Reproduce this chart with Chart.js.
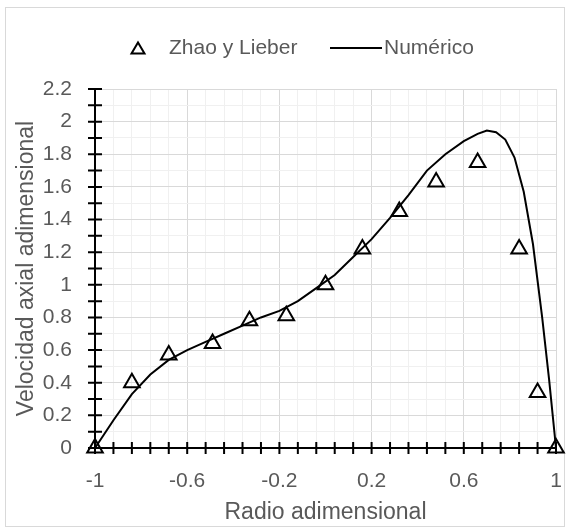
<!DOCTYPE html>
<html>
<head>
<meta charset="utf-8">
<script src="https://cdn.jsdelivr.net/npm/chart.js@4.4.1/dist/chart.umd.min.js"></script>
<style>
  html, body { margin: 0; padding: 0; background: #fff; }
  canvas { display: block; }
</style>
</head>
<body>
<canvas id="perfil" width="570" height="531"></canvas>
<script>
// Zhao y Lieber (experimental)
const expX = [-1, -0.84, -0.68, -0.49, -0.33, -0.17, 0, 0.16, 0.32, 0.48, 0.66, 0.84, 0.92, 1];
const expY = [0, 0.40, 0.57, 0.64, 0.78, 0.81, 1.0, 1.22, 1.45, 1.63, 1.75, 1.22, 0.34, 0];

// Numérico
const numX = [-1, -0.92, -0.84, -0.76, -0.68, -0.6, -0.52, -0.44, -0.36, -0.28, -0.2, -0.12, -0.04,
    0.04, 0.12, 0.2, 0.28, 0.36, 0.44, 0.52, 0.6, 0.66, 0.7, 0.74, 0.78, 0.82, 0.86, 0.9, 0.94, 0.97, 1];
const numY = [0, 0.17, 0.33, 0.45, 0.54, 0.60, 0.65, 0.70, 0.75, 0.80, 0.84, 0.90, 0.98,
    1.06, 1.17, 1.28, 1.41, 1.55, 1.70, 1.80, 1.88, 1.925, 1.945, 1.935, 1.89, 1.78, 1.57, 1.25, 0.80, 0.42, 0];

const seriesNames = ["Zhao y Lieber", "Numérico"];
const xTitle = "Radio adimensional";
const yTitle = "Velocidad axial adimensional";

const FONT = '"Liberation Sans", Arial, sans-serif';
const GREY = "#595959";

const toPoints = (xs, ys) => xs.map((v, i) => ({ x: v, y: ys[i] }));

// marco exterior
const frame = {
    id: "frame",
    beforeDraw(chart) {
        const ctx = chart.ctx;
        ctx.save();
        ctx.fillStyle = "#fff";
        ctx.fillRect(0, 0, chart.width, chart.height);
        ctx.strokeStyle = "#d9d9d9";
        ctx.lineWidth = 1;
        ctx.strokeRect(5.5, 7.5, 559, 519);
        ctx.restore();
    }
};

// marcas cruzadas en los ejes
const crossTicks = {
    id: "crossTicks",
    beforeDatasetsDraw(chart) {
        const { ctx, scales: { x, y } } = chart;
        const x0 = x.getPixelForValue(-1);
        const y0 = y.getPixelForValue(0);
        ctx.save();
        ctx.strokeStyle = "#000";
        ctx.lineWidth = 2;
        ctx.beginPath();
        x.ticks.forEach(t => {
            const px = x.getPixelForValue(t.value);
            ctx.moveTo(px, y0 - 6);
            ctx.lineTo(px, y0 + 6);
        });
        y.ticks.forEach(t => {
            const py = y.getPixelForValue(t.value);
            ctx.moveTo(x0 - 7, py);
            ctx.lineTo(x0 + 7, py);
        });
        ctx.stroke();
        ctx.restore();
    }
};

// leyenda
const legendBox = {
    id: "legendBox",
    afterDraw(chart) {
        const ctx = chart.ctx;
        const cy = 48;
        ctx.save();
        ctx.strokeStyle = "#000";
        ctx.lineWidth = 2;
        ctx.beginPath();
        ctx.moveTo(131.5, cy + 5.5);
        ctx.lineTo(138, cy - 5.5);
        ctx.lineTo(144.5, cy + 5.5);
        ctx.closePath();
        ctx.stroke();
        ctx.beginPath();
        ctx.moveTo(330, cy);
        ctx.lineTo(382, cy);
        ctx.stroke();
        ctx.fillStyle = GREY;
        ctx.font = "21px " + FONT;
        ctx.textBaseline = "middle";
        ctx.textAlign = "left";
        ctx.fillText(seriesNames[0], 169, cy);
        ctx.fillText(seriesNames[1], 384, cy);
        ctx.restore();
    }
};

const chart = new Chart(document.getElementById("perfil"), {
    type: "scatter",
    data: {
        datasets: [
            {
                label: seriesNames[0],
                data: toPoints(expX, expY),
                showLine: false,
                pointStyle: "triangle",
                pointRadius: 9,
                pointBorderWidth: 2,
                pointBorderColor: "#000",
                pointBackgroundColor: "rgba(0,0,0,0)",
                clip: false,
                order: 0
            },
            {
                label: seriesNames[1],
                data: toPoints(numX, numY),
                showLine: true,
                borderColor: "#000",
                borderWidth: 2,
                pointRadius: 0,
                tension: 0,
                clip: false,
                order: 1
            }
        ]
    },
    options: {
        responsive: false,
        animation: false,
        layout: { padding: { top: 89, right: 14, left: 0, bottom: 0 } },
        plugins: {
            legend: { display: false },
            tooltip: { enabled: false }
        },
        scales: {
            x: {
                type: "linear",
                min: -1,
                max: 1,
                afterFit: s => {
                    s.height = 83;
                    s.paddingLeft = 0;
                    s.paddingRight = 0;
                },
                ticks: {
                    stepSize: 0.08,
                    autoSkip: false,
                    maxRotation: 0,
                    padding: 21,
                    color: GREY,
                    font: { family: FONT, size: 21 },
                    callback: (v, i) => (i % 5 === 0 ? String(Math.round(v * 10) / 10) : "")
                },
                grid: {
                    drawTicks: false,
                    color: c => (c.index % 5 === 0 ? "#d9d9d9" : "#f0f0f0"),
                    lineWidth: 1
                },
                border: { color: "#000", width: 2 },
                title: {
                    display: true,
                    text: xTitle,
                    color: GREY,
                    font: { family: FONT, size: 23 },
                    padding: { top: 0, bottom: 5 }
                }
            },
            y: {
                type: "linear",
                min: 0,
                max: 2.2,
                afterFit: s => { s.width = 95; },
                ticks: {
                    stepSize: 0.1,
                    autoSkip: false,
                    padding: 23,
                    color: GREY,
                    font: { family: FONT, size: 21 },
                    callback: (v, i) => (i % 2 === 0 ? String(Math.round(v * 10) / 10) : "")
                },
                grid: {
                    drawTicks: false,
                    color: c => (c.index % 2 === 0 ? "#d9d9d9" : "#f0f0f0"),
                    lineWidth: 1
                },
                border: { color: "#000", width: 2 },
                title: {
                    display: true,
                    text: yTitle,
                    color: GREY,
                    font: { family: FONT, size: 23 },
                    padding: { top: 13, bottom: 0 }
                }
            }
        }
    },
    plugins: [frame, crossTicks, legendBox]
});
</script>
</body>
</html>
